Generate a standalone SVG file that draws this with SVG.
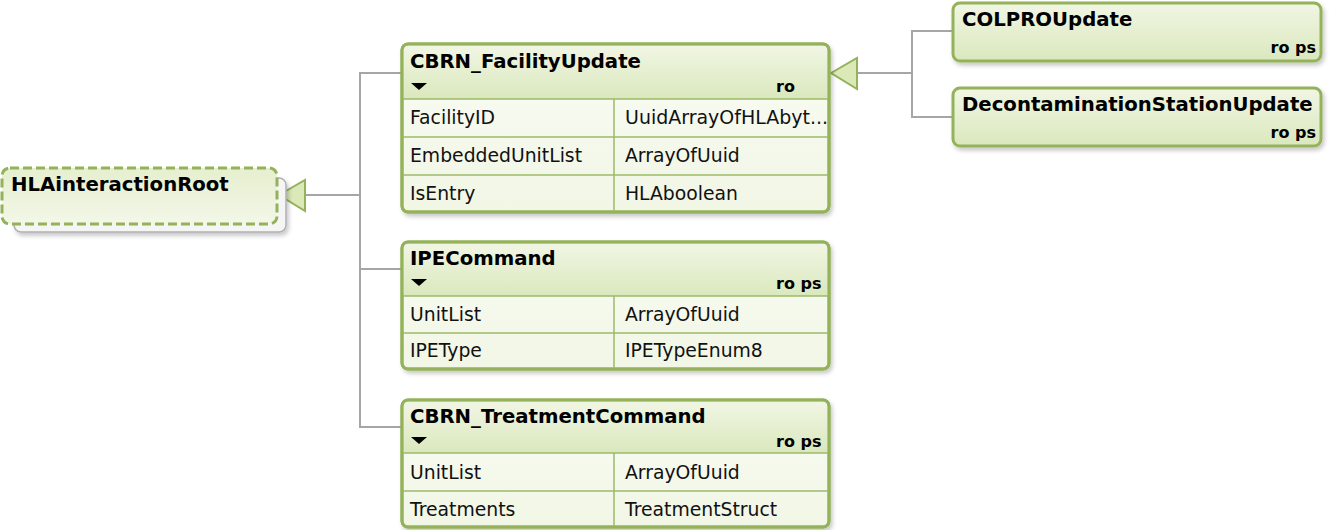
<svg xmlns="http://www.w3.org/2000/svg" width="1334" height="530" viewBox="0 0 1334 530">
<style>
.box{stroke:#93b25a;stroke-width:3;}
.hdr{fill:url(#hg);}
.body{fill:url(#bg);}
.div{stroke:#9cba68;stroke-width:1.5;fill:none;}
.t{font-family:"DejaVu Sans",sans-serif;font-weight:bold;font-size:19.7px;fill:#000;}
.r{font-family:"DejaVu Sans",sans-serif;font-size:18.8px;fill:#111;}
.f{font-family:"DejaVu Sans",sans-serif;font-weight:bold;font-size:16px;fill:#000;}
.conn{stroke:#a6a6a6;stroke-width:2;fill:none;}
.tri{fill:#dbe8b8;stroke:#93b25a;stroke-width:2;}
.mk{fill:#000;}
</style>
<defs>
<linearGradient id="hg" x1="0" y1="0" x2="0" y2="1">
<stop offset="0" stop-color="#f1f6e4"/>
<stop offset="1" stop-color="#dae8bd"/>
</linearGradient>
<linearGradient id="bg" x1="0" y1="0" x2="0" y2="1">
<stop offset="0" stop-color="#fafcf4"/>
<stop offset="1" stop-color="#f1f6e5"/>
</linearGradient>
<linearGradient id="rg" x1="0" y1="0" x2="0" y2="1">
<stop offset="0" stop-color="#e6efcf"/>
<stop offset="1" stop-color="#f3f7e8"/>
</linearGradient>
<filter id="sh" x="-10%" y="-10%" width="125%" height="130%">
<feDropShadow dx="2" dy="3" stdDeviation="2" flood-color="#000" flood-opacity="0.22"/>
</filter>
</defs>

<g id="connectors">
<polyline class="conn" points="305,195 360,195"/>
<polyline class="conn" points="402,73 360,73 360,427 402,427"/>
<polyline class="conn" points="360,269 402,269"/>
<polygon class="tri" points="279,195 305,180 305,211"/>
<polyline class="conn" points="857,73 912,73"/>
<polyline class="conn" points="953,31 912,31 912,117 953,117"/>
<polygon class="tri" points="831,73 857,58 857,89"/>
</g>

<g id="HLAinteractionRoot">
<rect x="14" y="178" width="272" height="54" rx="7" fill="#f5f5f5" stroke="#b0b0b0" stroke-width="1.5" filter="url(#sh)"/>
<rect x="2" y="168" width="275" height="56" rx="8" fill="url(#rg)" stroke="#93b25a" stroke-width="3" stroke-dasharray="9,4"/>
<text class="t" x="11" y="191">HLAinteractionRoot</text>
</g>

<g id="CBRN_FacilityUpdate">
<rect class="box body" x="402" y="44" width="427" height="168" rx="6" filter="url(#sh)"/>
<path class="hdr" d="M403.5,99 V51 a5.5,5.5 0 0 1 5.5,-5.5 H822 a5.5,5.5 0 0 1 5.5,5.5 V99 Z"/>
<rect x="402" y="44" width="427" height="168" rx="6" fill="none" class="box"/>
<line class="div" x1="403" y1="99" x2="828" y2="99"/>
<line class="div" x1="403" y1="137" x2="828" y2="137"/>
<line class="div" x1="403" y1="175" x2="828" y2="175"/>
<line class="div" x1="614" y1="99" x2="614" y2="211"/>
<text class="t" x="410" y="68">CBRN_FacilityUpdate</text>
<polygon class="mk" points="411,83 427,83 419,90"/>
<text class="f" x="776" y="92">ro</text>
<text class="r" x="410" y="124">FacilityID</text>
<text class="r" x="625" y="124" textLength="203" lengthAdjust="spacingAndGlyphs">UuidArrayOfHLAbyt...</text>
<text class="r" x="410" y="162">EmbeddedUnitList</text>
<text class="r" x="625" y="162">ArrayOfUuid</text>
<text class="r" x="410" y="200">IsEntry</text>
<text class="r" x="625" y="200">HLAboolean</text>
</g>

<g id="IPECommand">
<rect class="box body" x="402" y="242" width="427" height="127" rx="6" filter="url(#sh)"/>
<path class="hdr" d="M403.5,296 V249 a5.5,5.5 0 0 1 5.5,-5.5 H822 a5.5,5.5 0 0 1 5.5,5.5 V296 Z"/>
<rect x="402" y="242" width="427" height="127" rx="6" fill="none" class="box"/>
<line class="div" x1="403" y1="296" x2="828" y2="296"/>
<line class="div" x1="403" y1="333" x2="828" y2="333"/>
<line class="div" x1="614" y1="296" x2="614" y2="368"/>
<text class="t" x="410" y="265">IPECommand</text>
<polygon class="mk" points="411,279 427,279 419,286"/>
<text class="f" x="776" y="289">ro ps</text>
<text class="r" x="410" y="321">UnitList</text>
<text class="r" x="625" y="321">ArrayOfUuid</text>
<text class="r" x="410" y="357">IPEType</text>
<text class="r" x="625" y="357">IPETypeEnum8</text>
</g>

<g id="CBRN_TreatmentCommand">
<rect class="box body" x="402" y="400" width="427" height="127" rx="6" filter="url(#sh)"/>
<path class="hdr" d="M403.5,453 V407 a5.5,5.5 0 0 1 5.5,-5.5 H822 a5.5,5.5 0 0 1 5.5,5.5 V453 Z"/>
<rect x="402" y="400" width="427" height="127" rx="6" fill="none" class="box"/>
<line class="div" x1="403" y1="453" x2="828" y2="453"/>
<line class="div" x1="403" y1="491" x2="828" y2="491"/>
<line class="div" x1="614" y1="453" x2="614" y2="526"/>
<text class="t" x="410" y="423">CBRN_TreatmentCommand</text>
<polygon class="mk" points="411,437 427,437 419,444"/>
<text class="f" x="776" y="447">ro ps</text>
<text class="r" x="410" y="479">UnitList</text>
<text class="r" x="625" y="479">ArrayOfUuid</text>
<text class="r" x="410" y="516">Treatments</text>
<text class="r" x="625" y="516">TreatmentStruct</text>
</g>

<g id="COLPROUpdate">
<rect class="box hdr" x="953" y="3" width="368" height="58" rx="7" filter="url(#sh)"/>
<text class="t" x="962" y="26">COLPROUpdate</text>
<text class="f" x="1316" y="53" text-anchor="end">ro ps</text>
</g>

<g id="DecontaminationStationUpdate">
<rect class="box hdr" x="953" y="88" width="368" height="58" rx="7" filter="url(#sh)"/>
<text class="t" x="962" y="111">DecontaminationStationUpdate</text>
<text class="f" x="1316" y="138" text-anchor="end">ro ps</text>
</g>
</svg>
